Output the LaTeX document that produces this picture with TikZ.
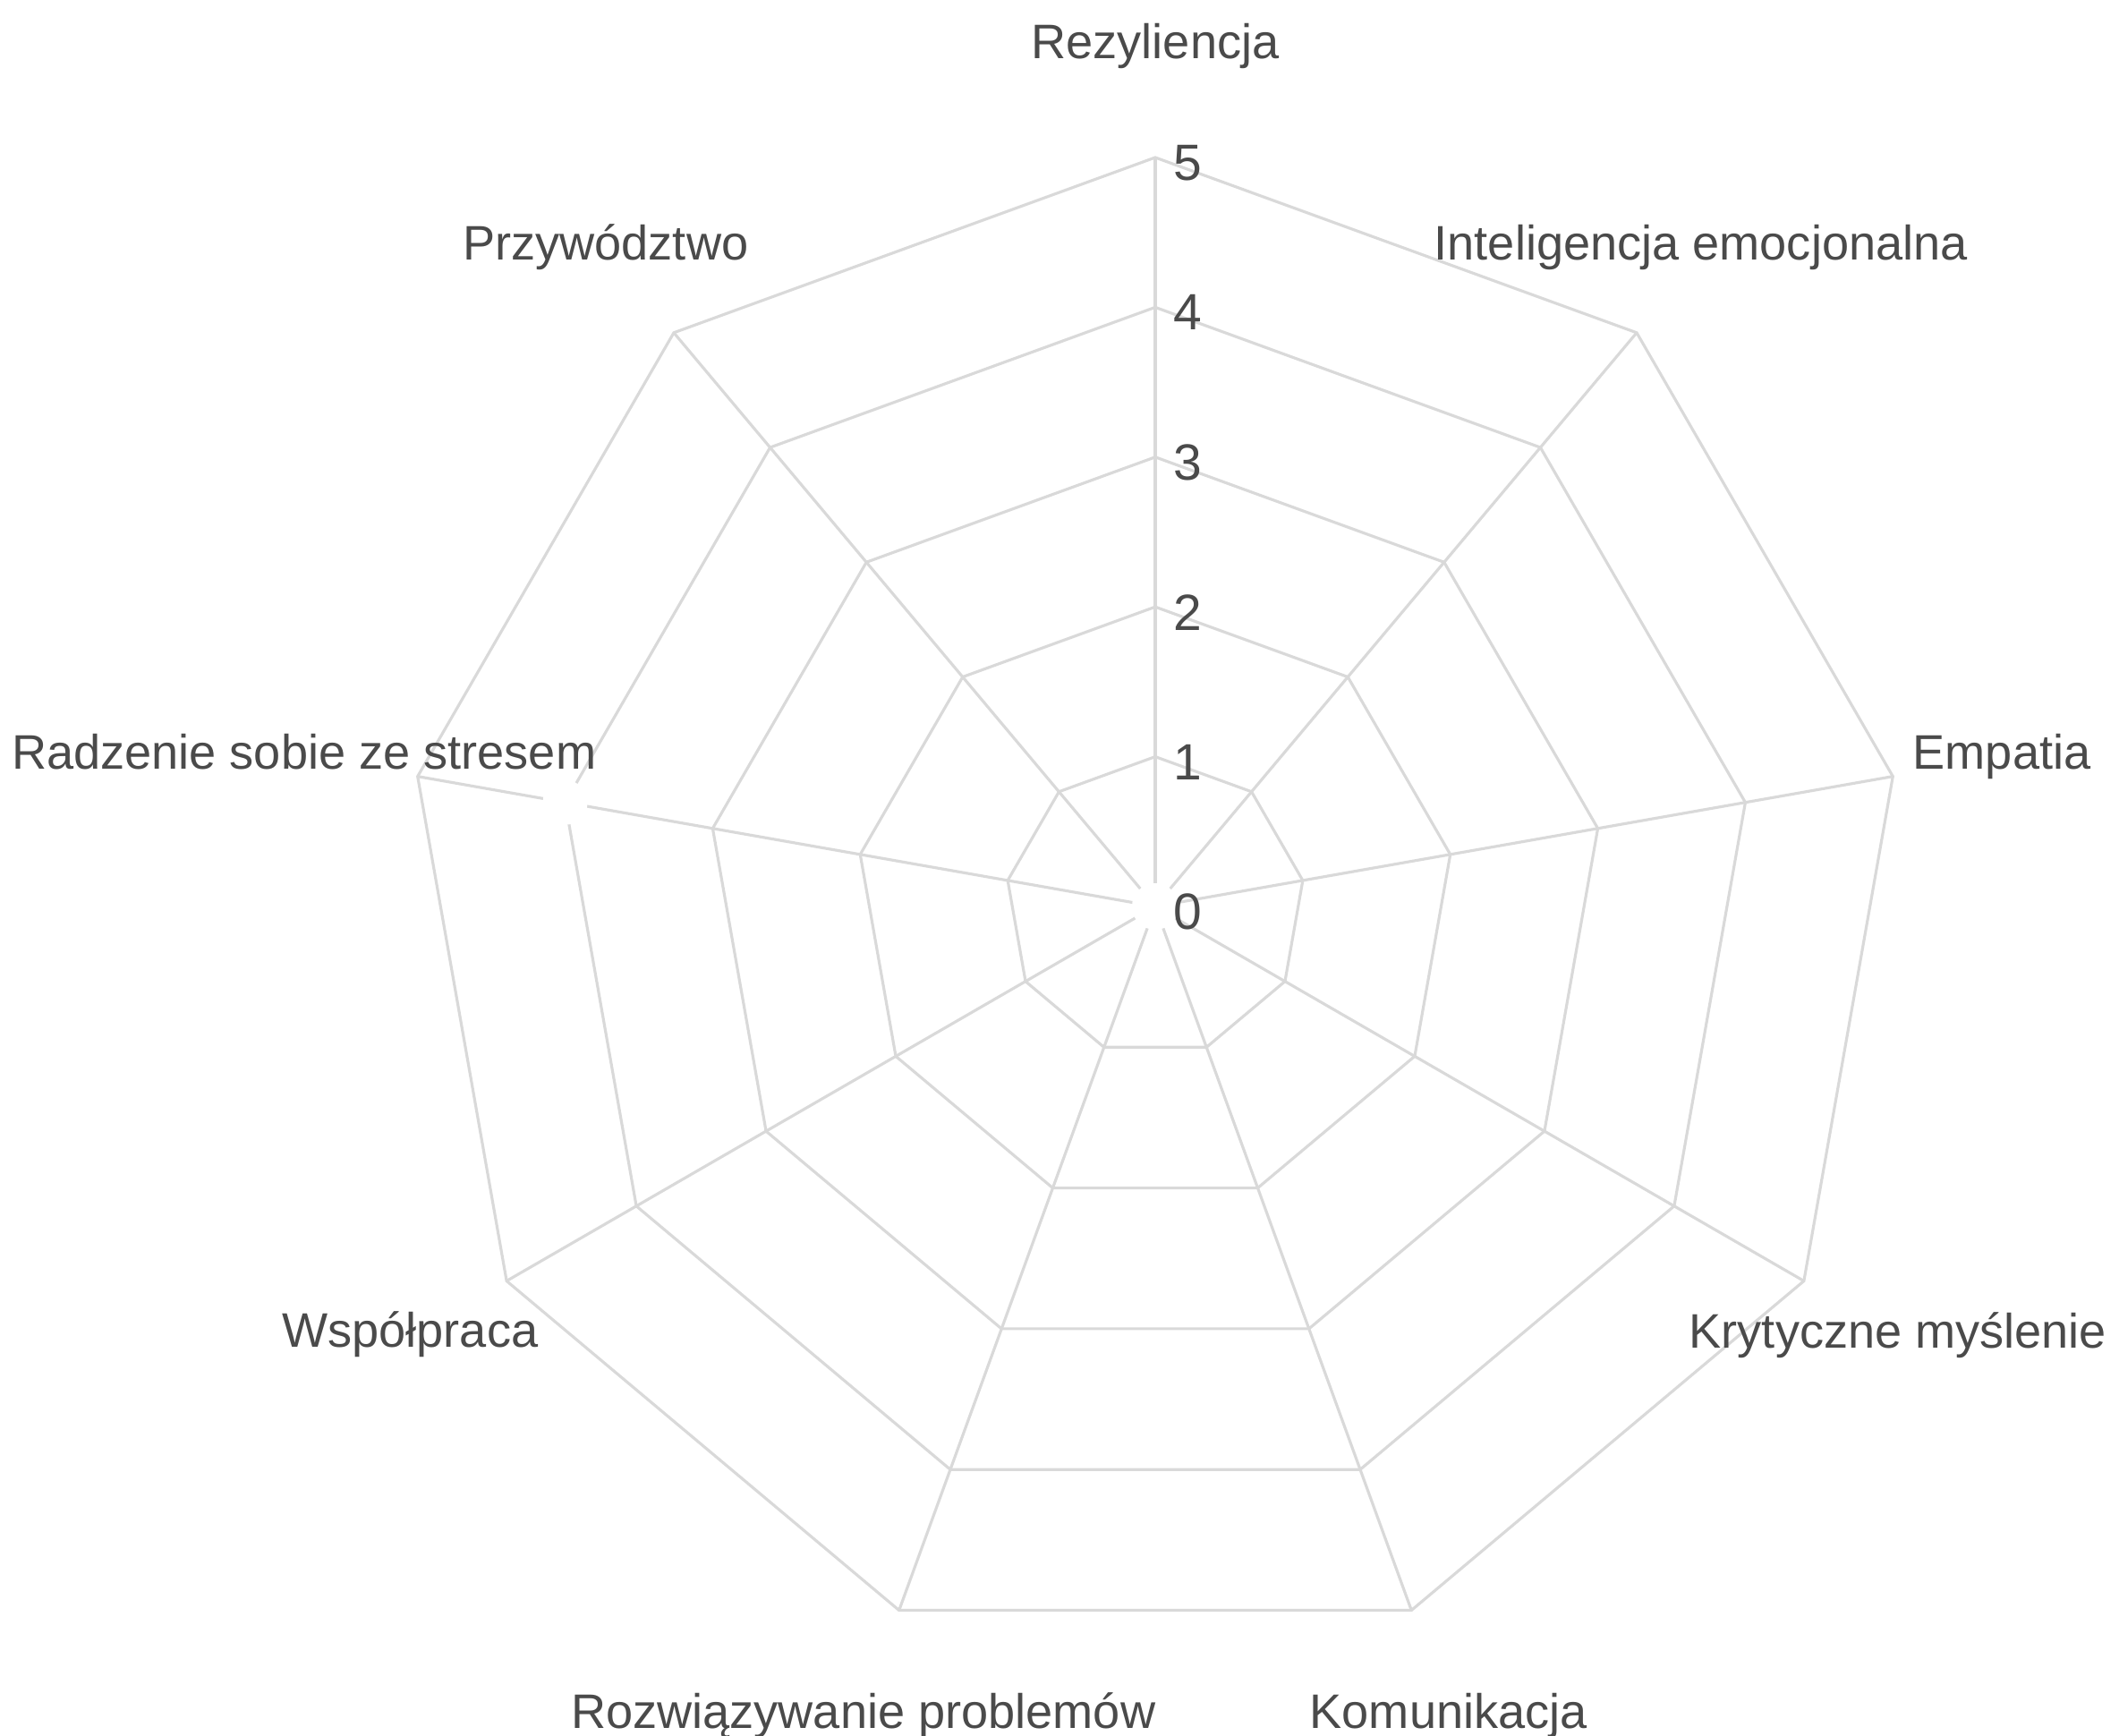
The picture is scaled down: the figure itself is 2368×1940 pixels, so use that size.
\documentclass[tikz,border=0pt]{standalone}
\usepackage{fontspec}
\setmainfont{Liberation Sans}
\definecolor{gridc}{HTML}{D9D9D9}
\definecolor{txt}{HTML}{4A4A4A}
\begin{document}
\begin{tikzpicture}[x=0.01cm,y=-0.01cm,
  grid/.style={draw=gridc,line width=0.9pt,line join=miter},
  lbl/.style={inner sep=0pt,text=txt,font=\fontsize{15.4}{18}\selectfont},
  tick/.style={inner sep=0pt,text=txt,font=\fontsize{16.2}{19}\selectfont},
  gap/.style={fill=white}]
\useasboundingbox (0,0) rectangle (2368,1940);
\coordinate (C) at (1291,1013);
% rings
\foreach \k in {1,...,5}{
  \draw[grid] ({1291},{1013-167.4*\k})
    \foreach \i in {1,...,8}{ -- ({1291+167.4*\k*sin(40*\i)},{1013-167.4*\k*cos(40*\i)}) } -- cycle;
}
% spokes
\foreach \i in {0,...,8}{
  \coordinate (V\i) at ({1291+837*sin(40*\i)},{1013-837*cos(40*\i)});
  \draw[grid] (C) -- (V\i);
}
% data markers (white)
\coordinate (P7) at ({1291+669.6*sin(280)},{1013-669.6*cos(280)});
\fill[gap] (C) circle[radius=0.26cm];
\fill[gap] (P7) circle[radius=0.25cm];
% tick labels
\foreach \k in {0,...,5}{
  \node[tick,anchor=west] (t\k) at (1311,{1019-167.4*\k}) {\k};
}
% axis labels
\node[lbl,anchor=base] (rez) at (1291,66) {Rezyliencja};
\node[lbl,anchor=base west] (int) at (1602,291) {Inteligencja emocjonalna};
\node[lbl,anchor=base west] (emp) at (2137,860) {Empatia};
\node[lbl,anchor=base west] (kry) at (1887,1507) {Krytyczne myślenie};
\node[lbl,anchor=base west] (kom) at (1463,1932) {Komunikacja};
\node[lbl,anchor=base east] (roz) at (1292,1932) {Rozwiązywanie problemów};
\node[lbl,anchor=base east] (wsp) at (602,1506) {Współpraca};
\node[lbl,anchor=base east] (rad) at (667,860) {Radzenie sobie ze stresem};
\node[lbl,anchor=base east] (prz) at (837,291) {Przywództwo};
\end{tikzpicture}
\end{document}
